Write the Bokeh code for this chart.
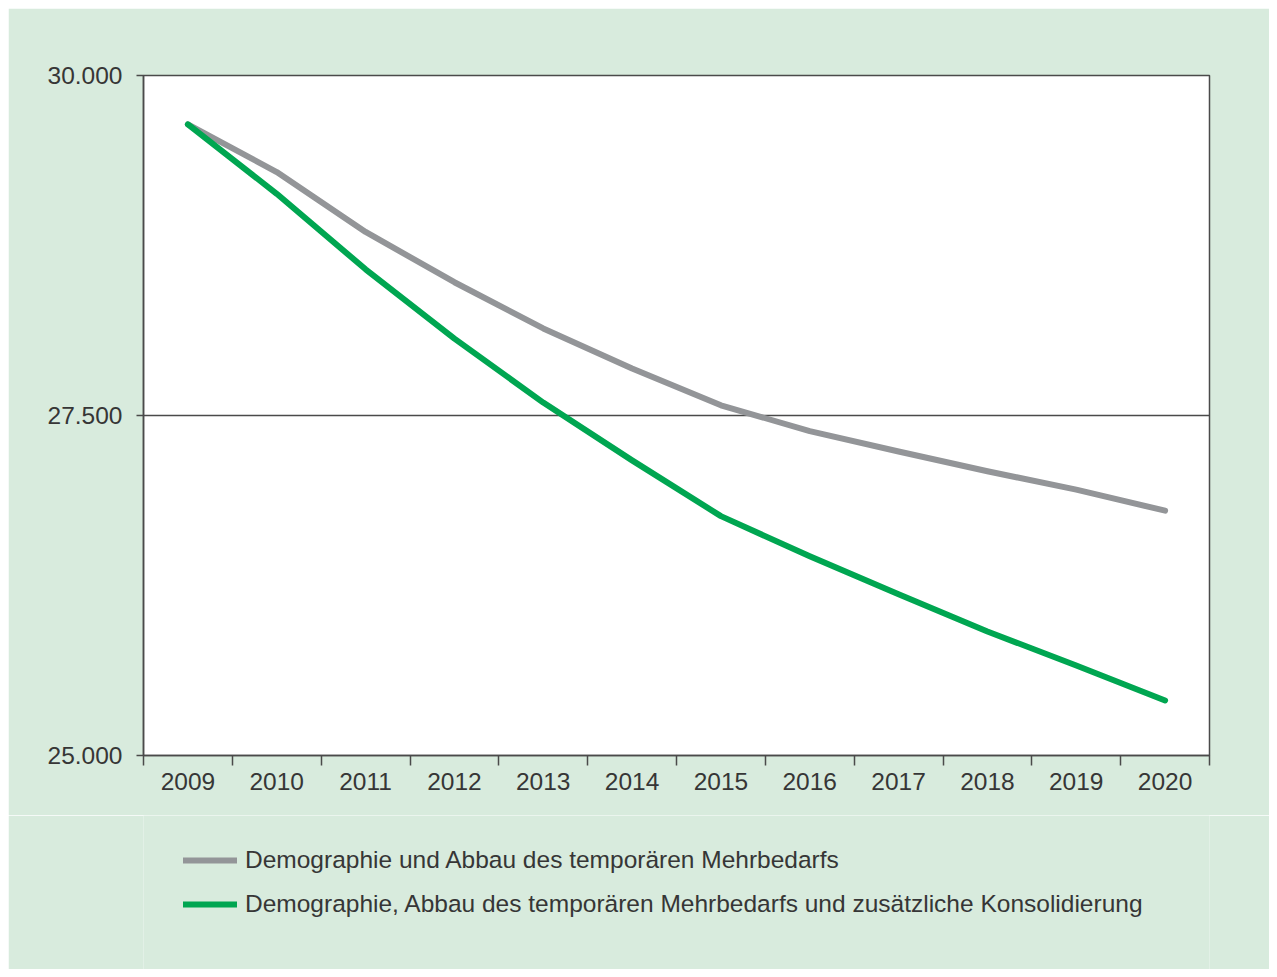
from bokeh.plotting import figure
from bokeh.models import FixedTicker, Range1d, Legend, LegendItem
from bokeh.layouts import column
from bokeh.embed import file_html
from bokeh.resources import INLINE

years = [2009, 2010, 2011, 2012, 2013, 2014, 2015, 2016, 2017, 2018, 2019, 2020]
demografie = [29640, 29290, 28850, 28480, 28140, 27845, 27575, 27385, 27235, 27090, 26955, 26800]
konsolidierung = [29640, 29130, 28575, 28065, 27595, 27170, 26760, 26465, 26185, 25912, 25662, 25405]
y_ticks = [25000, 27500, 30000]
y_labels = {25000: "25.000", 27500: "27.500", 30000: "30.000"}
series_names = ["Demographie und Abbau des temporären Mehrbedarfs",
                "Demographie, Abbau des temporären Mehrbedarfs und zusätzliche Konsolidierung"]
series_colors = ["#939598", "#00a651"]

BG = "#d8ebdd"
FRAME = "#4a4a4a"
TXT = "#363636"
FONT = "Liberation Sans"
FS = "24.5px"

p = figure(frame_width=1066, frame_height=680,
           min_border_left=135, min_border_right=60, min_border_top=67, min_border_bottom=60,
           x_range=Range1d(years[0] - 0.5, years[-1] + 0.5),
           y_range=Range1d(25000, 30000),
           output_backend="svg", toolbar_location=None,
           background_fill_color="white", border_fill_color=BG)

p.outline_line_color = FRAME
p.outline_line_width = 1.5

# x axis
p.xaxis.ticker = FixedTicker(ticks=years, minor_ticks=[y - 0.5 for y in years] + [years[-1] + 0.5])
p.xaxis.major_tick_out = 0
p.xaxis.major_tick_in = 0
p.xaxis.minor_tick_out = 10
p.xaxis.minor_tick_in = 0
p.xaxis.minor_tick_line_color = FRAME
p.xaxis.minor_tick_line_width = 1.5
p.xaxis.axis_line_color = FRAME
p.xaxis.axis_line_width = 1.5
p.xaxis.major_label_text_font = FONT
p.xaxis.major_label_text_font_size = FS
p.xaxis.major_label_text_color = TXT
p.xaxis.major_label_standoff = 7

# y axis
p.yaxis.ticker = FixedTicker(ticks=y_ticks, minor_ticks=[])
p.yaxis.major_label_overrides = y_labels
p.yaxis.major_tick_out = 7
p.yaxis.major_tick_in = 0
p.yaxis.major_tick_line_color = FRAME
p.yaxis.major_tick_line_width = 1.5
p.yaxis.axis_line_color = FRAME
p.yaxis.axis_line_width = 1.5
p.yaxis.major_label_text_font = FONT
p.yaxis.major_label_text_font_size = FS
p.yaxis.major_label_text_color = TXT
p.yaxis.major_label_standoff = 14

p.xgrid.grid_line_color = None
p.ygrid.ticker = FixedTicker(ticks=[27500])
p.ygrid.grid_line_color = FRAME
p.ygrid.grid_line_width = 1.5

p.line(years, demografie, line_color=series_colors[0], line_width=6, line_cap="round", line_join="round")
p.line(years, konsolidierung, line_color=series_colors[1], line_width=6, line_cap="round", line_join="round")

# legend panel (aligned with the plot's frame)
p2 = figure(frame_width=1066, frame_height=154,
            min_border_left=135, min_border_right=60, min_border_top=0, min_border_bottom=0,
            output_backend="svg", toolbar_location=None,
            x_axis_location=None, y_axis_location=None,
            background_fill_color=BG, border_fill_color=BG,
            x_range=Range1d(0, 1), y_range=Range1d(0, 1))
p2.outline_line_color = None
p2.grid.grid_line_color = None
lr1 = p2.line([-5, -4], [-5, -4], line_color=series_colors[0], line_width=6, line_cap="round")
lr2 = p2.line([-5, -4], [-5, -4], line_color=series_colors[1], line_width=6, line_cap="round")

legend = Legend(items=[LegendItem(label=series_names[0], renderers=[lr1]),
                       LegendItem(label=series_names[1], renderers=[lr2])],
                location=(40, 50), orientation="vertical")
legend.background_fill_alpha = 0
legend.border_line_color = None
legend.label_text_font = FONT
legend.label_text_font_size = FS
legend.label_text_color = TXT
legend.glyph_width = 54
legend.glyph_height = 30
legend.label_standoff = 8
legend.spacing = 14
legend.padding = 0
legend.margin = 0
legend.label_height = 30
p2.add_layout(legend, "center")

layout = column(p, p2, spacing=0)
html = file_html(layout, INLINE)
html = html.replace("<body>", "<body style=\"margin:8px\">")
open("out.html", "w").write(html)
